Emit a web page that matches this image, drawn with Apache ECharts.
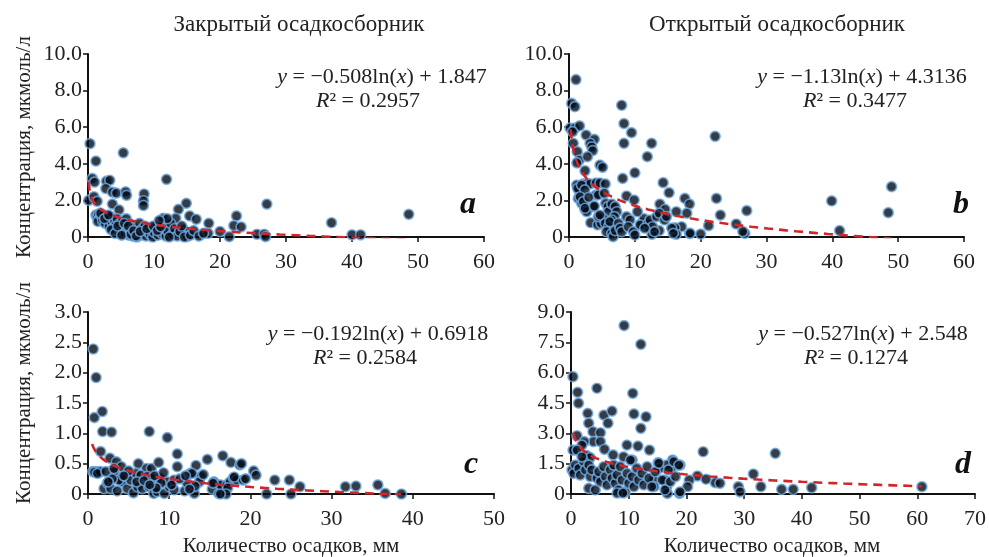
<!DOCTYPE html>
<html><head><meta charset="utf-8">
<script src="https://cdn.jsdelivr.net/npm/echarts@6/dist/echarts.min.js"></script>
<style>html,body{margin:0;padding:0;background:#fff}#c{width:989px;height:557px}</style>
</head><body><div id="c"></div>
<script>
// ---- data (precipitation mm, concentration µmol/l) ----
const panelA = [
[0.3,5.1],[1.2,4.15],[5.35,4.6],[11.9,3.15],[0.65,3.2],[1.0,3.0],[2.8,3.05],[3.3,3.1],[2.7,2.65],[3.7,2.45],[4.3,2.4],[5.7,2.47],[5.85,2.28],[8.5,2.35],[8.4,1.98],[8.4,1.72],[0.1,2.0],[0.9,2.2],[1.4,1.95],[3.7,1.8],[4.7,1.48],[14.9,1.84],[13.7,1.51],[11.4,1.02],[15.4,1.15],[16.4,0.97],[13.3,1.02],[18.3,0.75],[27.1,1.8],[36.9,0.78],[48.6,1.24],[40.0,0.12],[41.3,0.12],[22.5,1.15],[22.1,0.62],[23.2,0.55],[21.4,0.02],[20.0,0.3],[25.6,0.15],[26.7,0.15],[26.9,0.02],[18.2,0.2],[14.5,0.4],[15.0,0.02],
[1.2,1.2],[1.4,1.1],[1.6,1.25],[1.8,1.0],[1.5,0.85],[2.0,1.15],[2.2,0.9],[2.4,1.2],[2.6,0.75],[2.8,1.05],[3.0,0.95],[3.2,0.6],[3.4,1.1],[3.6,0.8],[3.8,0.5],[4.0,0.9],[4.2,0.65],[4.4,1.0],[4.6,0.4],[4.8,0.75],[5.0,0.3],[5.2,0.85],[5.4,0.55],[5.6,0.2],[5.8,1.0],[6.0,0.45],[6.2,0.1],[6.4,0.7],[6.6,0.3],[6.8,0.05],[7.0,0.5],[7.2,0.2],[7.4,0.0],[7.6,0.35],[7.8,0.75],[8.0,0.1],[8.2,0.45],[8.4,0.25],[8.6,0.6],[8.8,0.05],[9.0,0.3],[9.2,0.5],[9.4,0.15],[9.6,0.4],[9.8,0.0],[10.0,0.25],[10.3,0.5],[10.6,0.1],[10.9,0.35],[11.2,0.2],[11.5,0.6],[11.8,0.05],[12.1,0.3],[12.5,0.75],[12.8,0.15],[13.1,0.45],[13.5,0.05],[13.9,0.3],[14.2,0.6],[14.6,0.0],[15.5,0.1],[16.0,0.35],[16.8,0.05],[17.5,0.2],
[1.9,1.3],[2.5,1.0],[3.1,1.2],[3.5,0.4],[4.1,0.2],[4.5,0.6],[5.1,0.1],[5.5,0.75],[6.1,0.6],[6.5,0.15],[6.9,0.35],[7.3,0.05],[7.9,0.3],[8.9,0.45],[9.9,0.6],[10.5,0.35],[11.0,0.55],[12.3,0.0],[12.0,1.0],[10.8,0.9]
];
const panelB = [
[1.06,8.6],[0.4,7.3],[0.9,7.12],[8.0,7.2],[8.35,6.2],[8.35,5.12],[9.5,5.7],[12.55,5.12],[11.9,4.39],[22.2,5.5],[10.0,3.51],[8.15,3.2],[0.15,5.95],[0.9,5.95],[1.6,6.07],[0.55,5.76],[0.65,5.12],[1.26,4.66],[1.57,4.2],[1.2,4.05],[2.6,5.57],[3.85,5.34],[3.2,5.12],[3.45,4.93],[3.6,4.72],[2.8,4.39],[2.43,3.62],[4.7,3.93],[5.1,3.81],[1.17,2.84],[1.42,2.11],[1.5,2.55],[2.2,2.9],[2.7,2.9],[3.2,2.9],[4.1,2.95],[4.7,2.95],[5.5,2.9],[1.93,1.84],[2.43,1.51],[2.7,1.38],[3.7,1.66],[3.3,0.78],[4.1,2.3],[14.3,2.97],[15.2,2.42],[17.6,2.11],[18.3,1.8],[17.9,1.3],[13.8,1.8],[14.6,1.51],[16.3,1.38],[22.4,2.11],[23.0,1.2],[27.0,1.44],[25.4,0.71],[21.2,0.62],[26.7,0.2],[26.4,0.3],[39.9,1.97],[41.1,0.35],[49.0,2.75],[48.5,1.33],[20.0,0.16],[18.3,0.2],[17.1,0.56],[16.1,0.5],[16.3,0.15],[13.7,0.35],[12.6,0.15],[12.1,0.55],[11.0,0.75],[11.4,1.0],
[1.3,2.66],[1.9,2.84],[2.4,2.57],[1.67,2.2],[2.17,1.93],[2.43,1.57],[3.0,2.17],[3.85,1.69],[4.45,2.3],[5.36,2.39],[5.57,1.84],[5.9,1.66],[6.0,1.38],[6.5,1.8],[7.0,1.66],[7.25,1.38],[6.9,1.11],[6.5,0.93],[4.35,0.66],[4.86,0.75],[5.2,1.02],[4.45,1.11],[4.7,1.2],[5.5,0.75],[6.0,0.56],[6.2,0.84],[5.7,0.29],[6.5,0.2],[6.7,0.02],[7.0,0.35],[7.5,0.75],[7.75,0.48],[8.0,0.29],[8.75,2.24],[9.9,2.02],[8.75,1.11],[9.26,0.93],[9.0,0.56],[9.77,0.29],[10.0,0.11],[10.4,1.38],[10.8,0.66],[12.0,0.75],[12.3,0.93],[12.7,0.56],[13.0,0.29],[13.3,1.11],[13.7,1.3],[14.5,0.93],[14.8,1.11],[15.6,0.48],[15.85,0.2],[11.5,0.48],[18.4,0.2]
];
const panelC = [
[0.65,2.39],[1.0,1.92],[0.78,1.26],[1.76,1.36],[1.8,1.03],[2.9,1.02],[7.55,1.03],[9.77,0.93],[1.56,0.7],[11.0,0.66],[16.6,0.63],[14.7,0.57],[13.3,0.47],[11.0,0.45],[17.6,0.52],[18.7,0.48],[20.4,0.38],[20.7,0.31],[23.0,0.23],[24.8,0.23],[26.1,0.12],[31.7,0.12],[33.0,0.13],[35.7,0.15],[36.6,0.01],[38.6,0.0],[22.0,0.0],[25.0,0.0],[6.2,0.5],[7.2,0.42],[7.8,0.42],[8.7,0.52],[2.7,0.59],[3.5,0.53],[4.1,0.45],[0.6,0.37],[1.0,0.37],[1.3,0.35],[0.8,0.36],[1.5,0.37],[3.2,0.36],
[1.97,0.09],[2.38,0.18],[2.8,0.09],[3.6,0.05],[4.2,0.2],[4.84,0.09],[5.6,0.02],[6.1,0.12],[6.7,0.09],[7.5,0.12],[8.1,0.01],[8.5,0.04],[9.4,0.01],[10.0,0.12],[10.6,0.07],[11.9,0.05],[12.6,0.12],[13.1,0.01],[13.9,0.29],[15.3,0.08],[16.1,0.01],[16.5,0.12],
[1.15,0.34],[2.2,0.37],[3.2,0.42],[3.8,0.23],[4.6,0.29],[5.25,0.23],[5.9,0.34],[6.5,0.31],[7.3,0.29],[7.9,0.26],[8.9,0.26],[9.75,0.2],[10.6,0.23],[12.2,0.18],[12.6,0.34],[13.7,0.2],[15.5,0.2],[16.3,0.15],
[12.8,0.34],[15.4,0.18],[17.1,0.15],[17.5,0.2],[17.9,0.26],[18.3,0.23],[19.1,0.23],[8.2,0.3],[9.0,0.18],[10.3,0.15],[11.3,0.25],[9.3,0.35],[8.4,0.1],[5.0,0.38],[4.4,0.3],[3.0,0.25],[2.5,0.2],[6.0,0.2],[6.9,0.22],[7.6,0.15],[12.0,0.3],[14.2,0.32],[17.2,0.1],[18.0,0.28],[17.0,0.0],[16.3,0.0],[13.2,0.13],[12.5,0.08],[18.9,0.5],[19.4,0.25]
];
const panelD = [
[9.2,8.33],[12.1,7.4],[0.35,5.8],[4.5,5.23],[1.15,5.03],[1.3,4.49],[10.7,4.98],[10.9,3.96],[13.0,3.82],[2.9,3.99],[5.7,3.9],[7.1,4.1],[3.07,3.5],[6.4,3.5],[3.8,3.08],[5.1,3.03],[12.1,3.25],[1.04,2.88],[3.9,2.59],[5.1,2.59],[2.3,2.59],[9.7,2.42],[11.6,2.37],[13.6,2.17],[1.9,2.42],[0.35,2.17],[22.9,2.09],[5.8,2.21],[2.7,1.9],[3.3,1.8],[7.3,1.93],[9.1,1.84],[10.6,1.68],
[35.4,2.01],[31.6,0.99],[29.0,0.36],[29.3,0.11],[32.9,0.36],[36.5,0.23],[38.5,0.23],[41.7,0.31],[60.8,0.36],[25.0,0.56],[25.8,0.53],[21.9,0.89],[23.4,0.73],[20.5,0.69],[20.2,0.36],[18.9,1.43],[18.8,0.03],[17.6,1.68],[17.4,1.27],[16.6,1.43],[16.2,0.69],[16.6,0.36],[15.1,1.55],[15.3,1.27],[14.3,0.69],[14.4,0.36],[16.7,0.03],
[0.17,1.19],[0.75,1.43],[0.47,1.02],[1.33,1.27],[1.6,0.94],[2.2,1.6],[2.5,1.19],[3.07,1.43],[3.35,0.86],[3.6,1.19],[3.07,0.28],[4.2,0.2],[4.5,0.78],[4.8,1.1],[5.1,0.61],[5.67,1.35],[5.95,0.86],[6.24,0.45],[6.8,1.19],[7.1,0.78],[7.4,1.43],[7.67,0.53],[7.97,0.94],[8.26,0.2],[8.55,1.35],[8.84,0.69],[9.4,0.11],[9.7,1.02],[10.0,0.53],[10.3,1.68],[10.6,0.86],[10.9,0.36],[11.4,1.27],[11.7,0.69],[12.3,1.02],[12.6,0.45],[13.2,1.35],[13.5,0.78],[14.0,0.36],[14.6,1.1],[15.2,1.52],[15.8,0.69],[16.3,0.2],[16.9,1.19],[17.2,0.61],[17.8,1.6],[18.1,0.86],[18.7,1.43],[18.9,0.11],[1.04,2.17],[1.9,1.84],[8.0,0.05],[9.0,0.05]
];
// trend line coefficients y = a*ln(x) + b, and x span of each fit
const trendA = [-0.508, -1.13, -0.192, -0.527];
const trendB = [1.847, 4.3136, 0.6918, 2.548];
const trendX0 = [0.1, 0.25, 0.5, 0.4];
const trendX1 = [48.6, 49.0, 38.6, 60.8];
const eqText = ['y = −0.508ln(x) + 1.847','y = −1.13ln(x) + 4.3136','y = −0.192ln(x) + 0.6918','y = −0.527ln(x) + 2.548'];
const r2Text = ['0.2957','0.3477','0.2584','0.1274'];
const panelLetters = ['a','b','c','d'];
const titles = ['Закрытый осадкосборник','Открытый осадкосборник'];
const yName = 'Концентрация, мкмоль/л';
const xName = 'Количество осадков, мм';
const xMax = [60, 60, 50, 70];
const xStep = [10, 10, 10, 10];
const yMax = [10, 10, 3, 9];
const yStep = [2, 2, 0.5, 1.5];

const FONT = '"Liberation Serif","Times New Roman",serif';
const grids = [
  {left:88, top:54, width:396, height:183},
  {left:569, top:54, width:395, height:183},
  {left:88, top:312, width:406, height:182},
  {left:571, top:312, width:404, height:182}
];
const eqPos = [[382,77,368,101],[862,77,855,101],[378,334,365,358],[863,334,856,358]];
const letterPos = [[468,205],[961,205],[471,465],[963,465]];

function trendData(i){
  const out=[]; const n=120;
  const l0=Math.log(trendX0[i]), l1=Math.log(trendX1[i]);
  for(let k=0;k<=n;k++){const x=Math.exp(l0+(l1-l0)*k/n); out.push([x, trendA[i]*Math.log(x)+trendB[i]]);}
  return out;
}
const data=[panelA,panelB,panelC,panelD];
const xAxes=[], yAxes=[], series=[];
for(let i=0;i<4;i++){
  xAxes.push({gridIndex:i,type:'value',min:0,max:xMax[i],interval:xStep[i],
    axisLine:{onZero:false,lineStyle:{color:'#111',width:2}},
    axisTick:{show:true,inside:false,length:5,lineStyle:{color:'#111',width:1.5}},
    axisLabel:{color:'#222',fontFamily:FONT,fontSize:22,margin:14},
    splitLine:{show:false}});
  yAxes.push({gridIndex:i,type:'value',min:0,max:yMax[i],interval:yStep[i],
    axisLine:{show:true,onZero:false,lineStyle:{color:'#111',width:2}},
    axisTick:{show:true,inside:false,length:5,lineStyle:{color:'#111',width:1.5}},
    axisLabel:{color:'#222',fontFamily:FONT,fontSize:22,margin:6,formatter:v=>v===0?'0':v.toFixed(1)},
    splitLine:{show:false}});
  series.push({type:'scatter',xAxisIndex:i,yAxisIndex:i,data:data[i],symbol:'circle',symbolSize:10,
    itemStyle:{color:'#050a14',borderColor:'#6fabe2',borderWidth:1.7},z:2});
  series.push({type:'line',xAxisIndex:i,yAxisIndex:i,data:trendData(i),showSymbol:false,smooth:false,clip:true,
    lineStyle:{color:'#d0262a',width:2.6,type:[9,6]},z:3});
}
const graphic=[];
graphic.push({type:'text',x:299,y:25,style:{text:titles[0],font:'23px '+FONT,fill:'#222',align:'center',verticalAlign:'middle'}});
graphic.push({type:'text',x:777,y:25,style:{text:titles[1],font:'23px '+FONT,fill:'#222',align:'center',verticalAlign:'middle'}});
graphic.push({type:'text',x:24,y:147,rotation:Math.PI/2,style:{text:yName,font:'21px '+FONT,fill:'#222',align:'center',verticalAlign:'middle'}});
graphic.push({type:'text',x:24,y:393,rotation:Math.PI/2,style:{text:yName,font:'21px '+FONT,fill:'#222',align:'center',verticalAlign:'middle'}});
graphic.push({type:'text',x:291,y:546,style:{text:xName,font:'21px '+FONT,fill:'#222',align:'center',verticalAlign:'middle'}});
graphic.push({type:'text',x:772,y:546,style:{text:xName,font:'21px '+FONT,fill:'#222',align:'center',verticalAlign:'middle'}});
for(let i=0;i<4;i++){
  const p=eqPos[i];
  const parts=eqText[i].split('x');
  graphic.push({type:'text',x:p[0],y:p[1],style:{
    text:'{i|y}'+parts[0].slice(1)+'{i|x}'+parts[1],
    font:'22px '+FONT,fill:'#222',align:'center',verticalAlign:'middle',
    rich:{i:{fontStyle:'italic',fontFamily:FONT,fontSize:22,fill:'#222'}}}});
  graphic.push({type:'text',x:p[2],y:p[3],style:{
    text:'{i|R}² = '+r2Text[i],
    font:'22px '+FONT,fill:'#222',align:'center',verticalAlign:'middle',
    rich:{i:{fontStyle:'italic',fontFamily:FONT,fontSize:22,fill:'#222'}}}});
  graphic.push({type:'text',x:letterPos[i][0],y:letterPos[i][1],style:{text:panelLetters[i],
    font:'italic bold 32px '+FONT,fill:'#111',align:'center',verticalAlign:'middle'}});
}
const chart=echarts.init(document.getElementById('c'),null,{renderer:'canvas'});
chart.setOption({animation:false,backgroundColor:'#fff',grid:grids,xAxis:xAxes,yAxis:yAxes,series:series,graphic:graphic});
</script></body></html>
